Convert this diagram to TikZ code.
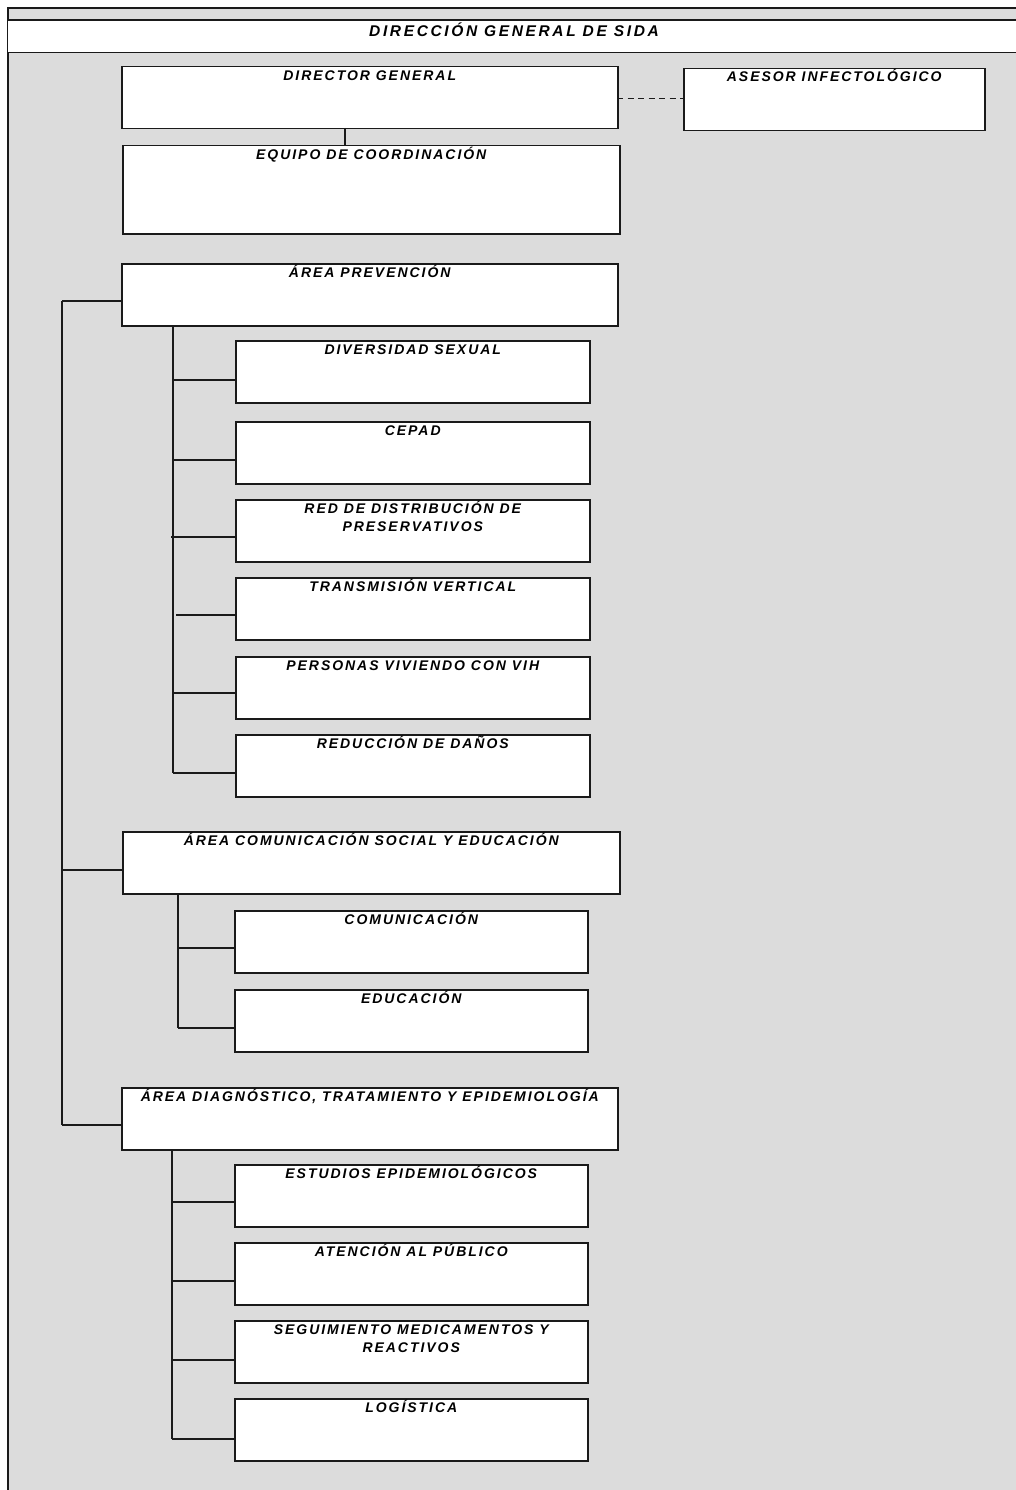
\documentclass[tikz,border=0pt]{standalone}
\usepackage{fontspec}
\newfontfamily\labfont[LetterSpace=14]{Liberation Sans Bold Italic}
\newfontfamily\titfont[LetterSpace=17]{Liberation Sans Bold Italic}
\definecolor{bggray}{HTML}{DCDCDC}
\definecolor{ink}{HTML}{1A1A1A}
\begin{document}
\begin{tikzpicture}[x=1pt,y=-1pt,
  box/.style={draw=ink, fill=white, line width=1.5pt, rectangle, inner sep=0pt, anchor=north west},
  sub/.style={box, minimum width=354pt, minimum height=62pt},
  area/.style={box, minimum width=496pt, minimum height=62pt},
  lab/.style={anchor=base, inner sep=0pt, font=\labfont\fontsize{14}{16}\selectfont, text=black},
  tit/.style={anchor=base, inner sep=0pt, font=\titfont\fontsize{15.5}{18}\selectfont, text=black},
  conn/.style={draw=ink, line width=1.4pt},
  dashconn/.style={draw=ink, line width=1.4pt, dash pattern=on 6pt off 4.5pt}]
\useasboundingbox (0,0) rectangle (1016,1490);
% background frame
\fill[bggray] (8,8) rectangle (1017,1491);
\draw[conn] (8,1491) -- (8,8) -- (1017,8);
% header band
\node[fill=white, inner sep=0pt, anchor=north west, minimum width=1009pt, minimum height=32pt] (hdr) at (8,20) {};
\draw[conn] (hdr.north west) -- (hdr.north east);
\draw[conn] (hdr.south west) -- (hdr.south east);
\node[tit] (hdrt) at (514,36.7) {DIRECCIÓN GENERAL DE SIDA};

% top boxes
\node[box, minimum width=496pt, minimum height=62pt] (dg) at (121,66) {};
\node[lab] (dgt) at ([yshift=-14.3pt]dg.north) {DIRECTOR GENERAL};
\node[box, minimum width=301pt, minimum height=62pt] (as) at (683,68) {};
\node[lab] (ast) at ([yshift=-13.8pt]as.north) {ASESOR INFECTOLÓGICO};
\node[box, minimum width=497pt, minimum height=88pt] (eq) at (122,145) {};
\node[lab] (eqt) at ([yshift=-14.3pt]eq.north) {EQUIPO DE COORDINACIÓN};

% areas
\node[area] (ap) at (121,263) {};
\node[lab] (apt) at ([yshift=-14.3pt]ap.north) {ÁREA PREVENCIÓN};
\node[area, minimum width=497pt] (ac) at (122,831) {};
\node[lab] (act) at ([yshift=-14.3pt]ac.north) {ÁREA COMUNICACIÓN SOCIAL Y EDUCACIÓN};
\node[area] (ad) at (121,1087) {};
\node[lab] (adt) at ([yshift=-14.3pt]ad.north) {ÁREA DIAGNÓSTICO, TRATAMIENTO Y EPIDEMIOLOGÍA};

% prevention sub boxes
\node[sub] (p1) at (235,340) {};
\node[lab] (p1t) at ([yshift=-14.3pt]p1.north) {DIVERSIDAD SEXUAL};
\node[sub] (p2) at (235,421) {};
\node[lab] (p2t) at ([yshift=-14.3pt]p2.north) {CEPAD};
\node[sub] (p3) at (235,499) {};
\node[lab] (p3t) at ([yshift=-14.5pt]p3.north) {RED DE DISTRIBUCIÓN DE};
\node[lab] (p3u) at ([yshift=-32.5pt]p3.north) {PRESERVATIVOS};
\node[sub] (p4) at (235,577) {};
\node[lab] (p4t) at ([yshift=-14.3pt]p4.north) {TRANSMISIÓN VERTICAL};
\node[sub] (p5) at (235,656) {};
\node[lab] (p5t) at ([yshift=-14.3pt]p5.north) {PERSONAS VIVIENDO CON VIH};
\node[sub] (p6) at (235,734) {};
\node[lab] (p6t) at ([yshift=-14.3pt]p6.north) {REDUCCIÓN DE DAÑOS};

% communication sub boxes
\node[sub, minimum width=353pt] (c1) at (234,910) {};
\node[lab] (c1t) at ([yshift=-14.3pt]c1.north) {COMUNICACIÓN};
\node[sub, minimum width=353pt] (c2) at (234,989) {};
\node[lab] (c2t) at ([yshift=-14.3pt]c2.north) {EDUCACIÓN};

% diagnosis sub boxes
\node[sub, minimum width=353pt] (d1) at (234,1164) {};
\node[lab] (d1t) at ([yshift=-14.3pt]d1.north) {ESTUDIOS EPIDEMIOLÓGICOS};
\node[sub, minimum width=353pt] (d2) at (234,1242) {};
\node[lab] (d2t) at ([yshift=-14.3pt]d2.north) {ATENCIÓN AL PÚBLICO};
\node[sub, minimum width=353pt] (d3) at (234,1320) {};
\node[lab] (d3t) at ([yshift=-14.5pt]d3.north) {SEGUIMIENTO MEDICAMENTOS Y};
\node[lab] (d3u) at ([yshift=-32.5pt]d3.north) {REACTIVOS};
\node[sub, minimum width=353pt] (d4) at (234,1398) {};
\node[lab] (d4t) at ([yshift=-14.3pt]d4.north) {LOGÍSTICA};

% director links
\coordinate (dgs) at (345,128);
\draw[conn] (dgs) -- (dgs |- eq.north);
\coordinate (dge) at (617,98.5);
\draw[dashconn] (dge) -- (dge -| as.west);

% main trunk
\coordinate (t1) at (62,301);
\coordinate (t2) at (62,870);
\coordinate (t3) at (62,1125);
\draw[conn] (t1) -- (t3);
\draw[conn] (t1) -- (t1 -| ap.west);
\draw[conn] (t2) -- (t2 -| ac.west);
\draw[conn] (t3) -- (t3 -| ad.west);

% prevention trunk
\coordinate (pa) at (173,325);
\coordinate (jp1) at (173,380);
\coordinate (jp2) at (173,460);
\coordinate (jp3) at (171,537);
\coordinate (jp4) at (176,615);
\coordinate (jp5) at (173,693);
\coordinate (jp6) at (173,773);
\draw[conn] (pa) -- (jp6);
\foreach \n in {1,...,6} \draw[conn] (jp\n) -- (jp\n -| p\n.west);

% communication trunk
\coordinate (ca) at (178,893);
\coordinate (jc1) at (178,948);
\coordinate (jc2) at (178,1028);
\draw[conn] (ca) -- (jc2);
\foreach \n in {1,2} \draw[conn] (jc\n) -- (jc\n -| c\n.west);

% diagnosis trunk
\coordinate (da) at (172,1149);
\coordinate (jd1) at (172,1202);
\coordinate (jd2) at (172,1281);
\coordinate (jd3) at (172,1360);
\coordinate (jd4) at (172,1439);
\draw[conn] (da) -- (jd4);
\foreach \n in {1,...,4} \draw[conn] (jd\n) -- (jd\n -| d\n.west);
\end{tikzpicture}
\end{document}
